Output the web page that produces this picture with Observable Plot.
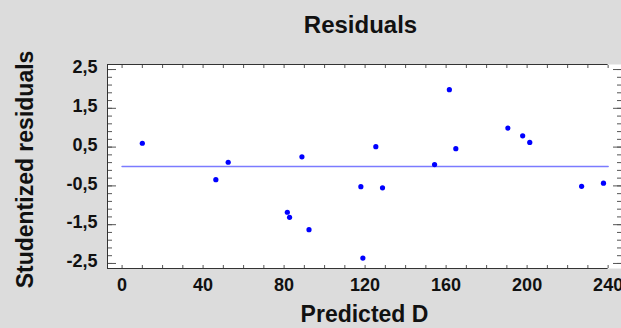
<!DOCTYPE html>
<html><head><meta charset="utf-8">
<script src="https://cdn.jsdelivr.net/npm/d3@7"></script>
<script src="https://cdn.jsdelivr.net/npm/@observablehq/plot@0.6"></script>
<style>
html,body{margin:0;padding:0;background:#dcdcdc;overflow:hidden}
#wrap{position:relative;width:621px;height:328px;background:#dcdcdc;font-family:"Liberation Sans",Arial,sans-serif}
#title{position:absolute;left:0;top:0;height:50px;line-height:50px;font-size:24px;font-weight:bold;text-align:center;padding-left:100px;box-sizing:border-box;width:621px;color:#111;z-index:2}
#chart svg{display:block}
</style></head><body><div id="wrap"><div id="title">Residuals</div><div id="chart"></div></div>
<script>
// Data
const predicted = [10.0, 46.3, 52.4, 81.6, 82.7, 88.8, 92.3, 117.9, 118.9, 125.3, 128.6, 154.3, 161.6, 164.8, 190.5, 197.8, 201.3, 226.9, 237.7];
const residuals = [0.60, -0.34, 0.11, -1.18, -1.31, 0.25, -1.63, -0.52, -2.36, 0.51, -0.55, 0.05, 1.98, 0.46, 0.99, 0.79, 0.62, -0.51, -0.43];
// zero reference line
const refLineX = [0, 240];
const refLineY = [0, 0];
// ticks
const xTickLabels = [0, 40, 80, 120, 160, 200, 240];
const xMinorTicks = [0,10,20,30,40,50,60,70,80,90,100,110,120,130,140,150,160,170,180,190,200,210,220,230,240];
const yTickLabels = [2.5, 1.5, 0.5, -0.5, -1.5, -2.5];
const yMinorTicks = [2.5,2.3,2.1,1.9,1.7,1.5,1.3,1.1,0.9,0.7,0.5,0.3,0.1,-0.1,-0.3,-0.5,-0.7,-0.9,-1.1,-1.3,-1.5,-1.7,-1.9,-2.1,-2.3,-2.5];
const xDomain = [-7.2, 246.6];
const yDomain = [-2.63, 2.63];

const points = predicted.map((p, i) => ({p, r: residuals[i]}));
const refLine = refLineX.map((x, i) => ({x, y: refLineY[i]}));
const fmt = d => d.toFixed(1).replace(".", ",");
const font = {fontSize: 18, fontWeight: "bold", fill: "#111"};
const tickColor = "#555";

const chart = Plot.plot({
  width: 621,
  height: 328,
  marginTop: 64,
  marginBottom: 60,
  marginLeft: 107,
  marginRight: 0,
  style: {background: "transparent", fontFamily: "'Liberation Sans', Arial, sans-serif"},
  x: {domain: xDomain},
  y: {domain: yDomain},
  marks: [
    Plot.frame({fill: "white", stroke: null}),
    // minor/major ticks drawn inward
    Plot.axisY(yMinorTicks, {anchor: "left", tickSize: -5, text: null, label: null, stroke: tickColor}),
    Plot.axisY(yTickLabels, {anchor: "left", tickSize: -9, text: null, label: null, stroke: tickColor}),
    Plot.axisY(yMinorTicks, {anchor: "right", tickSize: -5, text: null, label: null, stroke: tickColor}),
    Plot.axisY(yTickLabels, {anchor: "right", tickSize: -9, text: null, label: null, stroke: tickColor}),
    Plot.axisX(xMinorTicks, {anchor: "bottom", tickSize: -3, text: null, label: null, stroke: tickColor}),
    Plot.axisX(xMinorTicks, {anchor: "top", tickSize: -3, text: null, label: null, stroke: tickColor}),
    // tick labels
    Plot.axisY(yTickLabels, {anchor: "left", tickSize: 0, tickPadding: 10, tickFormat: fmt, label: null, dy: -2, ...font}),
    Plot.axisX(xTickLabels, {anchor: "bottom", tickSize: 0, tickPadding: 10, tickFormat: d => String(d), label: null, ...font}),
    // frame edges
    Plot.ruleX([xDomain[0]], {stroke: "#333"}),
    Plot.ruleY(yDomain, {x1: xDomain[0], x2: 240, stroke: "#333"}),
    // reference line and points
    Plot.line(refLine, {x: "x", y: "y", stroke: "#7b7bff", strokeWidth: 1.5}),
    Plot.dot(points, {x: "p", y: "r", r: 2.6, fill: "#0000ff", stroke: null}),
    // axis titles
    Plot.text(["Studentized residuals"], {frameAnchor: "left", textAnchor: "middle", rotate: -90, dx: -82, dy: 3, lineAnchor: "middle", fontSize: 23, fontWeight: "bold", fill: "#111"}),
    Plot.text(["Predicted D"], {frameAnchor: "bottom", dy: 46, lineAnchor: "middle", fontSize: 23, fontWeight: "bold", fill: "#111"})
  ]
});
document.getElementById("chart").appendChild(chart);
</script>
</body></html>
